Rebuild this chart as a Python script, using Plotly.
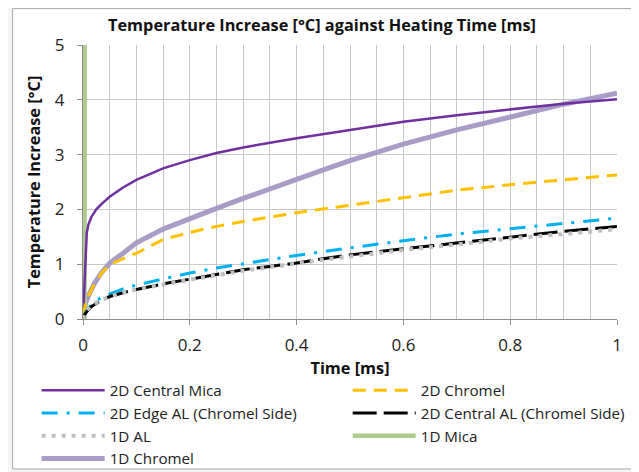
import plotly.graph_objects as go

# ---- data ----
mica2d_x = [0, 0.005, 0.007, 0.01, 0.016, 0.025, 0.035, 0.05, 0.075, 0.1, 0.15, 0.2, 0.25, 0.3, 0.35, 0.4, 0.5, 0.6, 0.7, 0.8, 0.9, 1.0]
mica2d_y = [0, 1.3, 1.57, 1.72, 1.87, 2.0, 2.1, 2.23, 2.4, 2.54, 2.75, 2.9, 3.03, 3.13, 3.22, 3.3, 3.45, 3.6, 3.72, 3.82, 3.93, 4.01]

chromel2d_x = [0, 0.005, 0.01, 0.022, 0.035, 0.05, 0.075, 0.1, 0.15, 0.2, 0.25, 0.3, 0.4, 0.5, 0.6, 0.7, 0.8, 0.9, 1.0]
chromel2d_y = [0.05, 0.3, 0.42, 0.65, 0.84, 0.99, 1.1, 1.2, 1.45, 1.58, 1.69, 1.78, 1.94, 2.08, 2.22, 2.35, 2.45, 2.54, 2.63]

edgeal_x = [0, 0.005, 0.01, 0.02, 0.035, 0.05, 0.075, 0.1, 0.15, 0.2, 0.25, 0.3, 0.35, 0.4, 0.45, 0.5, 0.6, 0.7, 0.8, 0.9, 1.0]
edgeal_y = [0, 0.12, 0.2, 0.3, 0.4, 0.46, 0.55, 0.62, 0.73, 0.84, 0.93, 1.01, 1.08, 1.16, 1.23, 1.3, 1.43, 1.55, 1.65, 1.75, 1.84]

centralal_x = [0, 0.003, 0.01, 0.016, 0.035, 0.05, 0.075, 0.1, 0.15, 0.2, 0.25, 0.3, 0.35, 0.4, 0.45, 0.5, 0.6, 0.7, 0.8, 0.9, 1.0]
centralal_y = [0, 0.08, 0.17, 0.23, 0.34, 0.41, 0.48, 0.54, 0.64, 0.73, 0.82, 0.9, 0.96, 1.02, 1.1, 1.17, 1.28, 1.39, 1.5, 1.6, 1.69]

al1d_x = [0, 0.003, 0.01, 0.016, 0.035, 0.05, 0.075, 0.1, 0.15, 0.2, 0.25, 0.3, 0.35, 0.4, 0.45, 0.5, 0.6, 0.7, 0.8, 0.9, 1.0]
al1d_y = [0, 0.1, 0.19, 0.25, 0.35, 0.41, 0.48, 0.54, 0.63, 0.72, 0.8, 0.88, 0.95, 1.01, 1.08, 1.14, 1.26, 1.36, 1.47, 1.55, 1.64]

mica1d_x = [0.003, 0.003]
mica1d_y = [0, 8]

chromel1d_x = [0, 0.005, 0.01, 0.022, 0.035, 0.05, 0.075, 0.1, 0.15, 0.2, 0.25, 0.3, 0.35, 0.4, 0.45, 0.5, 0.6, 0.7, 0.8, 0.9, 1.0]
chromel1d_y = [0.05, 0.3, 0.42, 0.66, 0.85, 1.02, 1.2, 1.39, 1.64, 1.84, 2.02, 2.2, 2.38, 2.55, 2.72, 2.89, 3.19, 3.45, 3.69, 3.92, 4.12]

x_ticks = [0, 0.2, 0.4, 0.6, 0.8, 1]
x_ticklabels = ["0", "0.2", "0.4", "0.6", "0.8", "1"]
y_ticks = [0, 1, 2, 3, 4, 5]

FONT = "Open Sans"

# name, x, y, line style, legend column, rank
series = [
    ("2D Central Mica", mica2d_x, mica2d_y, dict(color="#7030A0", width=2.5), "legend", 1),
    ("2D Chromel", chromel2d_x, chromel2d_y, dict(color="#FFC000", width=3, dash="13px,8px"), "legend2", 1),
    ("2D Edge AL (Chromel Side)", edgeal_x, edgeal_y, dict(color="#00B0F0", width=3, dash="16px,9px,3px,9px"), "legend", 2),
    ("2D Central AL (Chromel Side)", centralal_x, centralal_y, dict(color="#000000", width=3, dash="24px,7px"), "legend2", 2),
    ("1D AL", al1d_x, al1d_y, dict(color="#BFBFBF", width=4, dash="4px,6px"), "legend", 3),
    ("1D Mica", mica1d_x, mica1d_y, dict(color="#ADCB8E", width=4.5), "legend2", 3),
    ("1D Chromel", chromel1d_x, chromel1d_y, dict(color="#A99CC6", width=5), "legend", 4),
]

# draw order: thick lines underneath
draw_order = [6, 5, 0, 1, 2, 3, 4]

fig = go.Figure()
for i in draw_order:
    name, xs, ys, ln, lg, rank = series[i]
    fig.add_trace(go.Scatter(x=xs, y=ys, name=name, mode="lines", line=ln,
                             legend=lg, legendrank=rank))

# page offset of the figure (browser body margin)
OFF = 8
W, H = 639 - OFF, 472 - OFF
PL, PR, PT, PB = 83.3, 616.7, 44.5, 319.5   # plot area in page pixels
PW, PH = PR - PL, PB - PT

LEG_FONT = dict(family=FONT, size=15.2, color="#222222")
LEG_TOP = 374.5
leg_common = dict(orientation="v", xanchor="left", yanchor="top",
                  y=-(LEG_TOP - PB) / PH, itemwidth=63, font=LEG_FONT,
                  bgcolor="rgba(0,0,0,0)", traceorder="normal", tracegroupgap=0)

fig.update_layout(
    width=W, height=H,
    margin=dict(l=PL - OFF, r=639 - PR, t=PT - OFF, b=472 - PB, autoexpand=False),
    paper_bgcolor="#F4F4F4",
    plot_bgcolor="white",
    font=dict(family=FONT, size=15, color="#222222"),
    title=dict(text="<b>Temperature Increase [°C] against Heating Time [ms]</b>",
               x=(322 - OFF) / W, xanchor="center", y=1 - (25 - OFF) / H, yanchor="middle",
               font=dict(family=FONT, size=16.3, color="#111111")),
    showlegend=True,
    legend=dict(x=(37 - PL) / PW, **leg_common),
    legend2=dict(x=(347.7 - PL) / PW, **leg_common),
    shapes=[dict(type="rect", xref="paper", yref="paper",
                 x0=(13 - PL) / PW, x1=(635.5 - PL) / PW,
                 y0=(PB - 470) / PH, y1=(PB - 8) / PH,
                 line=dict(color="#A6A6A6", width=1), fillcolor="white", layer="below")],
)

fig.update_xaxes(range=[0, 1], tickvals=x_ticks, ticktext=x_ticklabels,
                 showgrid=True, gridcolor="#C8C8C8", gridwidth=1,
                 minor=dict(dtick=0.05, showgrid=True, gridcolor="#C8C8C8", gridwidth=1, ticks=""),
                 showline=True, linecolor="#8C8C8C", linewidth=1,
                 ticks="outside", ticklen=5, tickcolor="#8C8C8C", ticklabelstandoff=6,
                 zeroline=False, tickfont=dict(size=17, color="#222222"),
                 title=dict(text="<b>Time [ms]</b>", font=dict(size=16.3, color="#111111"), standoff=7))
fig.update_yaxes(range=[0, 5], tickvals=y_ticks,
                 showgrid=True, gridcolor="#C8C8C8", gridwidth=1,
                 showline=True, linecolor="#8C8C8C", linewidth=1,
                 ticks="outside", ticklen=5, tickcolor="#8C8C8C", ticklabelstandoff=9,
                 zeroline=False, tickfont=dict(size=17, color="#222222"),
                 title=dict(text="<b>Temperature Increase [°C]</b>", font=dict(size=16.3, color="#111111"), standoff=10))

fig.write_html("out.html")
